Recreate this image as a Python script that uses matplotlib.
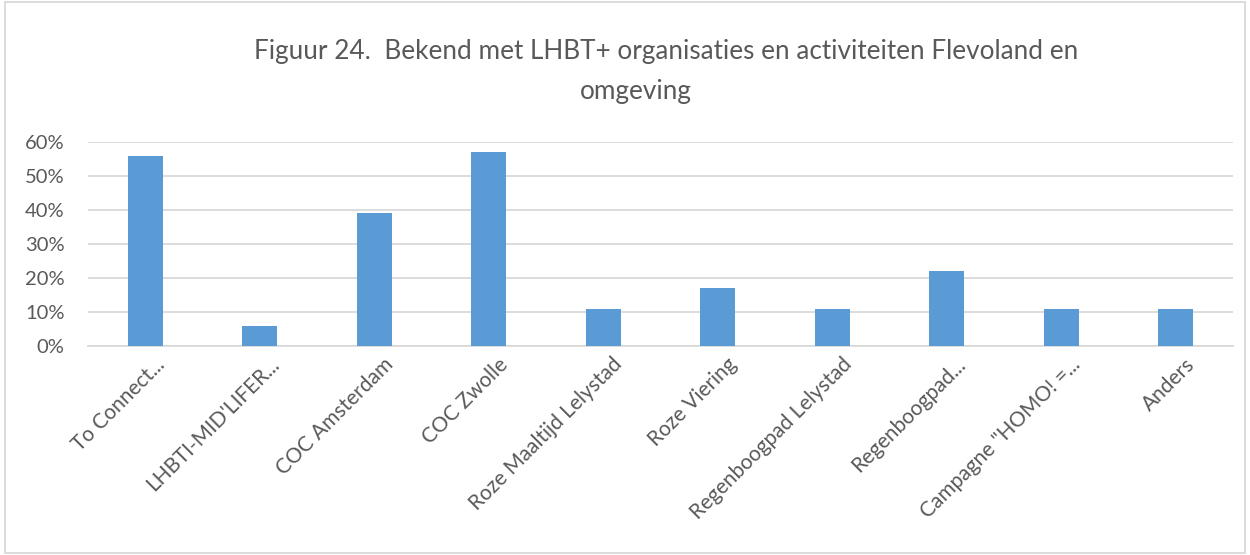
import matplotlib
matplotlib.use('Agg')
import matplotlib.pyplot as plt
import matplotlib.transforms as mtransforms
from matplotlib.ticker import PercentFormatter

plt.rcParams['font.family'] = ['Lato', 'DejaVu Sans']

# data
categories = ['To Connect...', "LHBTI-MID'LIFER...", 'COC Amsterdam', 'COC Zwolle',
              'Roze Maaltijd Lelystad', 'Roze Viering', 'Regenboogpad Lelystad',
              'Regenboogpad...', 'Campagne "HOMO! =...', 'Anders']
values = [0.56, 0.06, 0.39, 0.57, 0.11, 0.17, 0.11, 0.22, 0.11, 0.11]
yticks = [0, 0.1, 0.2, 0.3, 0.4, 0.5, 0.6]

grey = '#595959'
fig = plt.figure(figsize=(12.5, 5.55), dpi=100)
ax = fig.add_axes([88 / 1250, 1 - 346 / 555, (1233 - 88) / 1250, (346 - 142) / 555])

x = list(range(len(categories)))
ax.bar(x, values, width=0.31, color='#5B9BD5', zorder=3)

ax.set_xlim(-0.5, len(categories) - 0.5)
ax.set_ylim(0, 0.6)
ax.set_yticks(yticks)
ax.yaxis.set_major_formatter(PercentFormatter(1.0, decimals=0))
ax.grid(axis='y', color='#D9D9D9', linewidth=1.3, zorder=0)
for s in ['top', 'right', 'left']:
    ax.spines[s].set_visible(False)
ax.spines['bottom'].set_color('#D9D9D9')
ax.spines['bottom'].set_linewidth(1.3)
ax.tick_params(axis='both', length=0, colors=grey, labelsize=14.5)
ax.tick_params(axis='y', pad=17)
ax.tick_params(axis='x', pad=6)
ax.set_xticks(x)
ax.set_xticklabels(categories, rotation=45, ha='right', va='top',
                   rotation_mode='anchor', fontsize=15, color=grey)
# nudge labels a little to the right, like the original
shift = mtransforms.ScaledTranslation(9 / 100, 0, fig.dpi_scale_trans)
for lab in ax.get_xticklabels():
    lab.set_transform(lab.get_transform() + shift)

fig.text(0.533, 1 - 52 / 555, 'Figuur 24.  Bekend met LHBT+ organisaties en activiteiten Flevoland en',
         ha='center', va='center', fontsize=18.8, color=grey)
fig.text(0.509, 1 - 92 / 555, 'omgeving',
         ha='center', va='center', fontsize=18.8, color=grey)

# chart frame
fig.patches.append(plt.Rectangle((0.004, 0.004), 0.992, 0.992, transform=fig.transFigure,
                                 fill=False, edgecolor='#D9D9D9', linewidth=1.3))

fig.savefig('out.png', dpi=100)
